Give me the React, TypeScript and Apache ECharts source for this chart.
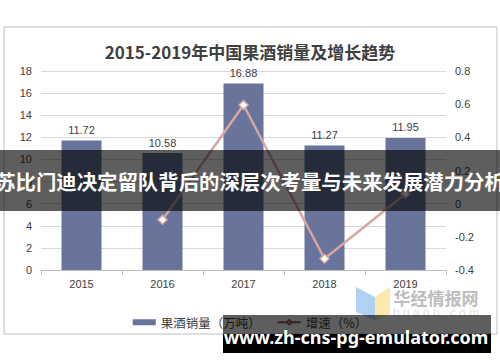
import React, { useEffect, useRef } from "react";
import * as echarts from "echarts";

const years = ["2015", "2016", "2017", "2018", "2019"];
const sales = [11.72, 10.58, 16.88, 11.27, 11.95];
const growth: (number | null)[] = [null, -0.097, 0.595, -0.332, 0.06];
const leftTicks = { min: 0, max: 18, interval: 2 };
const rightTicks = { min: -0.4, max: 0.8, interval: 0.2 };
const titleText = "2015-2019年中国果酒销量及增长趋势";
const bannerText = "苏比门迪决定留队背后的深层次考量与未来发展潜力分析";
const siteText = "www.zh-cns-pg-emulator.com";

export default function App() {
  const ref = useRef<HTMLDivElement>(null);
  useEffect(() => {
    if (!ref.current) return;
    const chart = echarts.init(ref.current, undefined, { renderer: "svg" });
    const lineColor = "#D6A7A1";
    chart.setOption({
      animation: false,
      backgroundColor: "#ffffff",
      title: {
        text: titleText,
        left: "center",
        top: 38,
        textStyle: {
          fontFamily: "Noto Sans CJK SC",
          fontSize: 17,
          fontWeight: "bold",
          color: "#404040",
        },
      },
      grid: { left: 41, right: 54, top: 71, bottom: 92, containLabel: false },
      legend: {
        left: "center",
        top: 311,
        itemWidth: 23,
        itemHeight: 6,
        itemGap: 16,
        textStyle: { fontSize: 12.5, color: "#404040", fontFamily: "Noto Sans CJK SC" },
        data: [
          { name: "果酒销量（万吨）", icon: "rect" },
          { name: "增速（%）", lineStyle: { color: "#8E5F5A" }, itemStyle: { color: "#fff", borderColor: "#8E5F5A" } },
        ],
      },
      xAxis: {
        type: "category",
        data: years,
        boundaryGap: true,
        axisLine: { lineStyle: { color: "#BFBFBF" } },
        axisTick: { show: true, length: 5, lineStyle: { color: "#BFBFBF" } },
        axisLabel: { margin: 8, fontSize: 11, color: "#404040", fontFamily: "Liberation Sans" },
      },
      yAxis: [
        {
          type: "value",
          min: leftTicks.min,
          max: leftTicks.max,
          interval: leftTicks.interval,
          axisLine: { show: false },
          axisTick: { show: false },
          axisLabel: { margin: 9, fontSize: 11, color: "#404040", fontFamily: "Liberation Sans" },
          splitLine: { lineStyle: { color: "#D9D9D9" } },
        },
        {
          type: "value",
          min: rightTicks.min,
          max: rightTicks.max,
          interval: rightTicks.interval,
          axisLine: { show: false },
          axisTick: { show: false },
          splitLine: { show: false },
          axisLabel: {
            margin: 9,
            fontSize: 11,
            color: "#404040",
            fontFamily: "Liberation Sans",
            formatter: (v: number) => String(parseFloat(v.toFixed(1))),
          },
        },
      ],
      series: [
        {
          name: "果酒销量（万吨）",
          type: "bar",
          data: sales,
          barWidth: 40,
          itemStyle: { color: "#68749B" },
          label: {
            show: true,
            position: "top",
            distance: 5,
            fontSize: 11,
            color: "#404040",
            fontFamily: "Liberation Sans",
          },
        },
        {
          name: "增速（%）",
          type: "line",
          yAxisIndex: 1,
          data: growth,
          symbol: "diamond",
          symbolSize: 9,
          lineStyle: { color: lineColor, width: 2.5 },
          itemStyle: { color: "#ffffff", borderColor: lineColor, borderWidth: 1.5 },
        },
      ],
      graphic: [
        {
          type: "rect",
          shape: { x: 4, y: 27, width: 493, height: 307 },
          style: { fill: "none", stroke: "#BFBFBF", lineWidth: 1 },
          z: -1,
          silent: true,
        },
        {
          type: "polygon",
          shape: { points: [[356, 287], [375, 297], [375, 320], [356, 312]] },
          style: { fill: "#A9CCF2", opacity: 0.9 },
          z: 50,
        },
        {
          type: "polygon",
          shape: { points: [[375, 297], [390, 287], [390, 314], [375, 320]] },
          style: { fill: "#FCE7A4", opacity: 0.9 },
          z: 50,
        },
        {
          type: "text",
          x: 436,
          y: 297,
          style: {
            text: "华经情报网",
            fill: "#BDBDBD",
            font: "bold 17px 'Noto Sans CJK SC'",
            align: "center",
            verticalAlign: "middle",
          },
          z: 50,
        },
        {
          type: "text",
          x: 436,
          y: 313,
          style: {
            text: "h u a o n . c o m",
            fill: "#E0E0E0",
            font: "12px 'Liberation Sans'",
            align: "center",
            verticalAlign: "middle",
          },
          z: 50,
        },
        {
          type: "rect",
          shape: { x: 0, y: 150, width: 500, height: 61 },
          style: { fill: "rgba(0,0,0,0.63)" },
          z: 100,
        },
        {
          type: "text",
          x: 250,
          y: 181,
          style: {
            text: bannerText,
            fill: "#ffffff",
            font: "bold 20.4px 'Noto Sans CJK SC'",
            align: "center",
            verticalAlign: "middle",
          },
          z: 101,
        },
        {
          type: "rect",
          shape: { x: 223, y: 315, width: 268, height: 20 },
          style: { fill: "rgba(0,0,0,0.63)" },
          z: 100,
        },
        {
          type: "rect",
          shape: { x: 223, y: 334, width: 268, height: 19 },
          style: { fill: "#000000" },
          z: 100,
        },
        {
          type: "text",
          x: 356,
          y: 337,
          style: {
            text: siteText,
            fill: "#ffffff",
            font: "bold 18px 'Noto Sans'",
            align: "center",
            verticalAlign: "middle",
          },
          z: 101,
        },
      ],
    });
    return () => chart.dispose();
  }, []);
  return <div ref={ref} style={{ width: 500, height: 362, position: "absolute", left: 0, top: 0 }} />;
}
